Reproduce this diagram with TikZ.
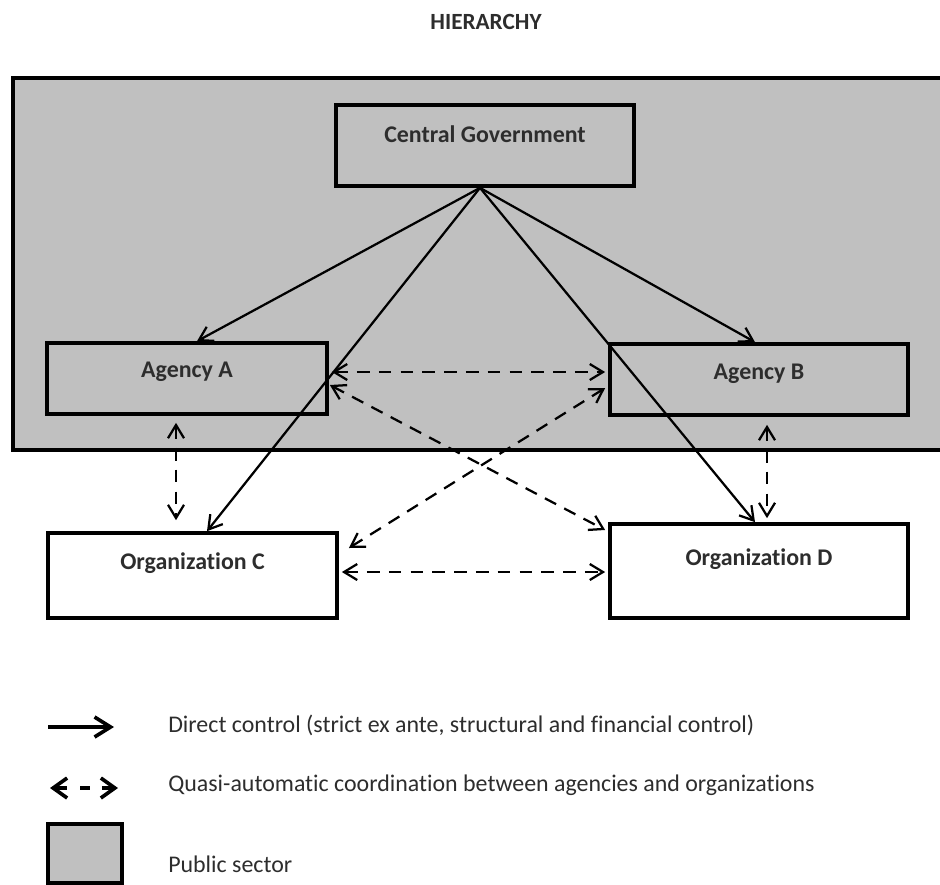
\documentclass[tikz,border=0pt]{standalone}
\usepackage{fontspec}
\setmainfont{Carlito}[Ligatures=NoCommon]
\usetikzlibrary{arrows.meta,calc,positioning}
\definecolor{sectorgray}{RGB}{192,192,192}
\definecolor{ink}{RGB}{45,45,45}

\begin{document}
\begin{tikzpicture}[x=0.025cm,y=-0.025cm,>={Straight Barb[length=3.3mm,width=4mm]},
  box/.style={draw,line width=2.6pt,inner sep=0pt},
  lbl/.style={font=\fontsize{17}{20}\selectfont\bfseries,text=ink,inner sep=0pt},
  legtext/.style={font=\fontsize{17}{20}\selectfont,text=ink,inner sep=0pt,anchor=base west},
  ctrl/.style={->,line width=1.6pt},
  coord/.style={<->,line width=1.6pt,dash pattern=on 9pt off 6.5pt}]
\clip (0,0) rectangle (940,884);
\fill[white] (0,0) rectangle (940,884);

\node[font=\fontsize{16.5}{20}\selectfont\bfseries,text=ink,anchor=base] (title) at (486,29){HIERARCHY};

\draw[line width=3pt,fill=sectorgray] (13,78) rectangle (960,450);

\node[box,minimum width=7.45cm,minimum height=2.025cm,label={[lbl,yshift=.28cm]center:Central Government}] (cg) at (485,145.5){};
\node[box,minimum width=7cm,minimum height=1.775cm,label={[lbl,yshift=.16cm]center:Agency A}] (agA) at (187,378.5){};
\node[box,minimum width=7.45cm,minimum height=1.775cm,label={[lbl,yshift=.14cm]center:Agency B}] (agB) at (759,379.5){};
\node[box,minimum width=7.225cm,minimum height=2.125cm,label={[lbl,yshift=.31cm]center:Organization C}] (orgC) at (192.5,575.5){};
\node[box,minimum width=7.45cm,minimum height=2.35cm,label={[lbl,yshift=.3cm]center:Organization D}] (orgD) at (759,571){};

\coordinate (top) at ($(cg.south)+(-5,0)$);
\draw[ctrl](top)--($(agA.north)+(10,0)$);
\draw[ctrl](top)--($(orgC.north)+(14.5,0)$);
\draw[ctrl](top)--($(agB.north)+(-4,0)$);
\draw[ctrl](top)--($(orgD.north)+(-4,0)$);

\draw[coord]($(agA.south)+(-11,7)$)--($(orgC.north)+(-16.5,-11)$);
\draw[coord]($(agB.south)+(8,8)$)--($(orgD.north)+(8,-4)$);
\draw[coord]($(agA.east)+(3,-6.5)$)--($(agB.west)+(-3,-7.5)$);
\draw[coord]($(agA.east)+(1,6.5)$)--($(orgD.west)+(-3,-41)$);
\draw[coord]($(orgC.east)+(10,-27.5)$)--($(agB.west)+(-3,8.5)$);
\draw[coord]($(orgC.east)+(3,-3.5)$)--($(orgD.west)+(-3,1)$);

\coordinate (k1) at (48,727);
\coordinate (k2) at (114,727);
\draw[-{Straight Barb[length=4mm,width=5mm]},line width=2.6pt](k1)--(k2);
\node[legtext] (t1) at (168,732){Direct control (strict ex ante, structural and financial control)};
\coordinate (k3) at (50,788);
\coordinate (k4) at (118,788);
\draw[{Straight Barb[length=3.5mm,width=5mm]}-{Straight Barb[length=3.5mm,width=5mm]},line width=2.6pt,dash pattern=on 8.5pt off 9.3pt on 7.1pt off 8.5pt on 20pt](k3)--(k4);
\node[legtext] (t2) at (168,791){Quasi-automatic coordination between agencies and organizations};
\draw[line width=3pt,fill=sectorgray] (48,824) rectangle (122,883);
\node[legtext] (t3) at (168,872){Public sector};
\end{tikzpicture}
\end{document}
